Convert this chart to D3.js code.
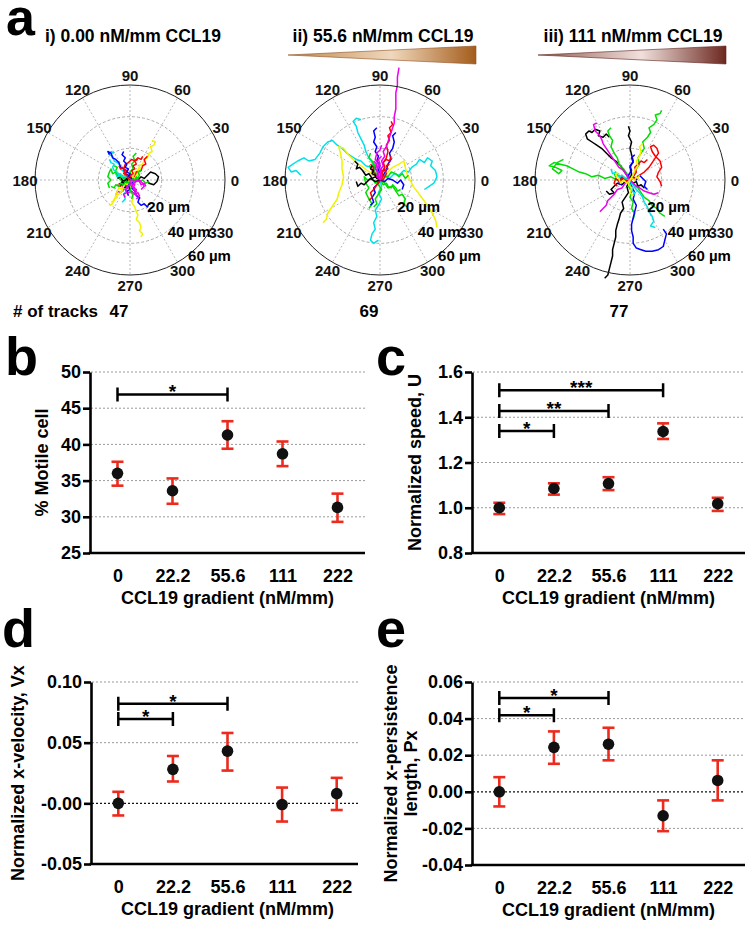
<!DOCTYPE html>
<html><head><meta charset="utf-8">
<script src="https://cdn.jsdelivr.net/npm/d3@7"></script>
<style>
body{margin:0;background:#fff;}
svg{font-family:"Liberation Sans",Arial,Helvetica,sans-serif;font-weight:bold;}
</style></head><body>
<svg id="fig" width="750" height="925"></svg>
<script>
// ---------- DATA ----------
const categories = ["0","22.2","55.6","111","222"];

const motileMean = [36.0, 33.6, 41.3, 38.7, 31.3];
const motileLo   = [34.3, 31.8, 39.4, 37.0, 29.3];
const motileHi   = [37.6, 35.3, 43.2, 40.4, 33.2];

const speedMean = [1.000, 1.085, 1.107, 1.337, 1.018];
const speedLo   = [0.972, 1.058, 1.078, 1.304, 0.986];
const speedHi   = [1.022, 1.108, 1.135, 1.373, 1.044];

const vxMean = [0.000, 0.028, 0.043, -0.001, 0.008];
const vxLo   = [-0.010, 0.018, 0.027, -0.015, -0.0055];
const vxHi   = [0.0095, 0.039, 0.058, 0.013, 0.021];

const pxMean = [0.000, 0.0243, 0.026, -0.0131, 0.0062];
const pxLo   = [-0.008, 0.0153, 0.0172, -0.0215, -0.0047];
const pxHi   = [0.008, 0.033, 0.035, -0.0047, 0.0172];

const ticksB = [25, 30, 35, 40, 45, 50];
const tickLabelsB = ["25", "30", "35", "40", "45", "50"];
const ticksC = [0.8, 1.0, 1.2, 1.4, 1.6];
const tickLabelsC = ["0.8", "1.0", "1.2", "1.4", "1.6"];
const ticksD = [-0.05, 0, 0.05, 0.10];
const tickLabelsD = ["-0.05", "-0.00", "0.05", "0.10"];
const ticksE = [-0.04, -0.02, 0, 0.02, 0.04, 0.06];
const tickLabelsE = ["-0.04", "-0.02", "0.00", "0.02", "0.04", "0.06"];

// significance brackets: [from, to, level, label]
const sigB = [["0", "55.6", 46.9, "*"]];
const sigC = [["0", "111", 1.519, "***"], ["0", "55.6", 1.428, "**"], ["0", "22.2", 1.339, "*"]];
const sigD = [["0", "55.6", 0.082, "*"], ["0", "22.2", 0.0696, "*"]];
const sigE = [["0", "55.6", 0.0512, "*"], ["0", "22.2", 0.0418, "*"]];

const polarAngles = [0, 30, 60, 90, 120, 150, 180, 210, 240, 270, 300, 330];
const polarRings = [20, 40, 60];
const polarTitles = ["i) 0.00 nM/mm CCL19", "ii) 55.6 nM/mm CCL19", "iii) 111 nM/mm CCL19"];
const trackCounts = [47, 69, 77];

// cell tracks (µm, x right, y up), flat x,y lists
const tracksI = [
 {c:"y", p:[0,0,2,2,3,5,5,6,6,9,8,10,9,13,11,14,12,17,14,18,13,21,15,22,16,24,14,25]},
 {c:"y", p:[0,0,1,-3,-1,-5,1,-8,2,-11,1,-14,3,-17,4,-20,5,-22,4,-25,6,-27,7,-30,6,-32,8,-34,7,-36]},
 {c:"b", p:[0,0,2,-2,1,-5,3,-7,4,-10,6,-11,5,-14,7,-16,9,-15,11,-17,12,-15]},
 {c:"k", p:[0,0,3,1,5,0,7,2,9,1,11,3,13,5,16,4,18,2,17,-1,15,-3,12,-2,11,0]},
 {c:"c", p:[0,0,-2,2,-3,5,-5,6,-6,9,-8,11,-10,12,-11,15,-13,16,-12,18,-10,17]},
 {c:"b", p:[0,0,-1,3,-3,4,-4,7,-6,8,-7,11,-9,13,-11,14,-12,17,-14,18,-13,16]},
 {c:"g", p:[0,0,-2,-1,-4,1,-6,0,-8,2,-9,5,-11,4,-12,7,-13,5,-14,2,-12,0,-14,-2,-13,-5]},
 {c:"g", p:[0,0,1,2,0,5,2,7,1,10,3,12,2,15,4,17]},
 {c:"r", p:[0,0,-1,2,-3,3,-2,6,-4,7,-3,10,-1,11,1,13,3,12,5,14,7,13,8,15]},
 {c:"m", p:[0,0,-2,-2,-1,-4,-3,-6,-1,-8,1,-7,3,-9,5,-8,6,-10,4,-12]},
 {c:"m", p:[0,0,-3,-1,-5,-3,-4,-6,-6,-8,-8,-7,-9,-10]},
 {c:"y", p:[0,0,-2,-3,-4,-4,-5,-7,-7,-9,-9,-10,-10,-13,-12,-14]},
 {c:"r", p:[0,0,3,2,4,5,7,6,8,9,10,10,9,13,11,15]},
 {c:"g", p:[0,0,2,-1,4,1,6,-1,8,0,10,-2,12,-1]},
 {c:"c", p:[0,0,-1,-3,-3,-4,-2,-7,-4,-9,-3,-12,-5,-14]},
 {c:"k", p:[0,0,-2,1,-3,-1,-5,0,-6,2,-8,1]},
 {c:"b", p:[0,0,1,-2,-1,-3,0,-6,-2,-7,-1,-10]},
 {c:"m", p:[0,0,2,1,4,-1,6,0,8,-2,9,-4,7,-6]},
 {c:"g", p:[0,0,-1,-2,1,-4,0,-7,2,-9,1,-12]},
 {c:"r", p:[0,0,-2,-1,-3,-3,-5,-2,-6,-4,-8,-3]},
 {c:"c", p:[0,0,-2,2,-4,1,-6,3,-8,2,-9,4]},
 {c:"y", p:[0,0,1,2,3,1,4,3,6,4,5,6,7,8]},
 {c:"m", p:[0,0,1,-2,3,-3,2,-5,4,-6,3,-8]},
 {c:"k", p:[0,0,-1,-2,-3,-2,-2,-4,-4,-5]},
 {c:"g", p:[0,0,-1,1,-2,0,-3,2,-4,1,-5,3,-6,2,-7,4,-8,3,-9,6,-8,8,-10,9]},
 {c:"c", p:[0,0,-2,1,-3,3,-5,2,-6,4,-7,3,-8,5,-10,6,-11,8,-10,10,-12,11,-13,13]},
 {c:"r", p:[0,0,1,1,0,3,2,4,1,6,3,7,2,9,4,10,3,12,5,13]},
 {c:"m", p:[0,0,1,-1,0,-2,2,-3,1,-4,3,-5,2,-6,4,-7,3,-9,5,-10]},
 {c:"m", p:[0,0,-1,-1,0,-3,-2,-4,-1,-5,-3,-6,-2,-8,-4,-9,-3,-11]},
 {c:"b", p:[0,0,1,1,-1,2,0,4,-2,5,-1,7,-3,8,-2,10,-4,12,-3,14,-5,16,-4,18]},
 {c:"g", p:[0,0,1,-1,2,1,3,0,4,2,5,1,6,3,5,5,7,6]},
 {c:"k", p:[0,0,-1,-1,-2,1,-3,0,-4,-2,-5,-1,-6,-3,-7,-2]},
 {c:"y", p:[0,0,-1,-1,-2,-3,-3,-2,-4,-4,-5,-6,-7,-5,-8,-7,-9,-9,-8,-11,-10,-12,-11,-15,-13,-16]},
 {c:"g", p:[0,0,-1,-2,-3,-1,-4,-3,-6,-2,-7,-4,-9,-3,-10,-5,-12,-4]},
 {c:"r", p:[0,0,-1,1,-2,3,-4,4,-3,6,-5,8,-6,7,-7,9]},
 {c:"m", p:[0,0,2,0,3,-2,4,0,6,-1,7,-3,9,-2,10,-4]}
];

const tracksII = [
 {c:"c", p:[0,0,-2,3,-4,5,-6,8,-9,9,-12,12,-15,13,-18,15,-21,17,-24,20,-27,22,-30,25,-33,24,-36,21,-38,17,-41,13,-45,12,-48,14,-52,12,-55,10,-58,8,-56,5,-53,6,-50,3]},
 {c:"c", p:[0,0,-1,4,-3,7,-5,11,-7,14,-9,18,-10,22,-12,26,-14,30,-15,34,-17,37,-15,39,-12,38]},
 {c:"c", p:[0,0,1,-4,-1,-8,1,-12,-1,-16,-3,-19,-2,-23,-4,-27,-3,-31,-5,-34,-6,-38,-4,-40,-1,-38]},
 {c:"c", p:[0,0,3,2,6,1,9,4,12,3,15,6,18,5,20,8,23,10,25,13,28,11,30,14,33,12,32,9,35,6,36,2,34,-2,31,-4,28,-6]},
 {c:"y", p:[0,0,-4,3,-8,6,-12,9,-16,12,-20,16,-23,20,-26,21,-25,17,-24,12,-24,7,-23,2,-24,-3,-26,-8,-27,-12,-29,-15,-31,-18,-33,-21,-34,-25,-36,-27]},
 {c:"y", p:[0,0,4,4,8,8,12,10,15,12,16,8,17,4,19,0,21,-4,24,-8,27,-12,30,-16,33,-21,35,-25,36,-30]},
 {c:"g", p:[0,0,3,-2,5,-5,8,-4,10,-7,12,-10,14,-9,16,-12,15,-15,17,-17]},
 {c:"g", p:[0,0,2,3,5,2,7,5,10,4,12,2,14,4,16,1,18,3]},
 {c:"g", p:[0,0,-3,-2,-5,1,-8,0,-10,2,-9,-2,-7,-5,-9,-8,-7,-12,-5,-15,-7,-18]},
 {c:"g", p:[0,0,-1,-3,1,-6,-1,-9,-3,-12,-2,-15,-4,-17]},
 {c:"g", p:[0,0,-2,3,-4,6,-3,9,-5,12,-7,14,-6,17]},
 {c:"g", p:[0,0,1,-1,2,-3,4,-2,5,-4,7,-5,8,-3,10,-5,11,-7,13,-6]},
 {c:"g", p:[0,0,-1,1,0,3,-2,4,-1,6,-3,7,-2,9,-4,10,-5,8,-7,9]},
 {c:"b", p:[0,0,1,3,-1,6,0,9,-2,12,-1,15,-3,18,-2,21,-4,24,-3,27,-4,31,-2,33]},
 {c:"b", p:[0,0,2,3,4,6,5,10,7,13,6,17,8,20,9,24,8,28,10,30]},
 {c:"b", p:[0,0,-2,-3,-4,-5,-3,-8,-5,-11,-4,-14,-6,-16]},
 {c:"b", p:[0,0,3,-1,5,1,8,0,11,-2,13,0,15,-3,14,-6]},
 {c:"r", p:[0,0,1,4,3,7,2,11,4,14,5,18,4,22,6,25,5,28,7,30,6,33,8,35,7,37]},
 {c:"r", p:[0,0,2,2,1,5,3,8,2,11,4,13,6,12,7,15]},
 {c:"r", p:[0,0,-2,-3,-4,-6,-6,-8,-5,-11,-7,-13]},
 {c:"r", p:[0,0,-2,1,-3,4,-5,5,-4,8,-6,10]},
 {c:"r", p:[0,0,1,1,2,0,3,2,4,4,3,6,5,7,4,9,6,10]},
 {c:"k", p:[0,0,-3,2,-5,1,-7,4,-9,3,-11,6,-13,8,-15,7,-14,10,-16,12]},
 {c:"k", p:[0,0,-3,-1,-6,1,-8,-1,-10,-3,-12,-2,-14,-4,-15,-1]},
 {c:"k", p:[0,0,-1,2,-2,1,-3,3,-5,4,-4,6,-6,7,-5,9]},
 {c:"m", p:[0,0,-2,2,-1,5,-3,7,-2,10,-4,12]},
 {c:"m", p:[0,0,-1,3,-2,6,-1,10,-3,13,-2,17,0,19,1,22]},
 {c:"m", p:[0,0,1,2,0,4,1,6,-1,8,0,10,-1,13,1,15]},
 {c:"m", p:[0,0,1,3,0,6,2,9,1,12,3,15,2,18,4,21,5,24,6,27,7,30,8,33,9,36,9,40,10,45,10,50,10,55,11,60,11,65,12,71]}
];

const tracksIII = [
 {c:"k", p:[0,0,-2,-4,-1,-8,-3,-11,-5,-14,-4,-18,-6,-21,-7,-25,-8,-28,-9,-32,-9,-36,-10,-40,-11,-44,-11,-48,-12,-52,-13,-56,-14,-60,-16,-62]},
 {c:"k", p:[0,0,-2,3,-4,6,-6,9,-9,12,-12,14,-15,17,-18,20,-21,22,-24,24,-27,26,-28,29,-26,31,-24,30,-22,32,-19,31,-20,28,-17,27,-15,29,-13,27]},
 {c:"k", p:[0,0,1,4,0,8,2,12,1,16,0,20,1,24,-1,28,0,31,-1,34]},
 {c:"k", p:[0,0,-3,-1,-5,-3,-8,-2,-10,-4,-12,-6,-10,-8,-13,-9,-15,-7]},
 {c:"k", p:[0,0,2,-2,4,-1,5,-4,7,-3,9,-5]},
 {c:"g", p:[0,0,-4,1,-8,0,-12,2,-16,1,-20,3,-24,2,-28,4,-32,5,-36,7,-40,9,-44,10,-48,11,-51,9,-47,8,-43,6,-45,4,-49,7,-46,11,-42,13]},
 {c:"g", p:[0,0,2,3,4,7,6,10,5,14,7,17,9,20,8,24,11,27,13,30,12,33,15,35,17,38,16,41,19,42,20,44]},
 {c:"g", p:[0,0,-2,4,-4,7,-7,10,-8,14,-10,17,-12,21,-11,25,-13,28,-14,31,-12,33]},
 {c:"g", p:[0,0,2,-3,5,-5,7,-8,9,-11,12,-13,14,-16,17,-18,19,-21,22,-23]},
 {c:"g", p:[0,0,-1,-4,1,-7,0,-11,2,-14,1,-18,3,-21,2,-25]},
 {c:"g", p:[0,0,-1,1,-3,0,-4,2,-6,1,-7,3,-9,2,-10,4]},
 {c:"b", p:[0,0,1,-4,3,-8,2,-12,4,-16,3,-20,2,-24,1,-28,1,-32,2,-36,2,-40,4,-43,7,-44,10,-45,14,-45,18,-44,21,-42,22,-38,23,-34,21,-31]},
 {c:"b", p:[0,0,2,2,4,0,6,3,8,1,10,-1,9,-4,11,-6]},
 {c:"b", p:[0,0,-1,3,1,6,0,9,2,11,1,14,3,16]},
 {c:"b", p:[0,0,-1,-1,-2,1,-4,0,-5,2,-6,0,-7,-2,-5,-3]},
 {c:"r", p:[0,0,3,1,6,3,9,5,12,8,14,11,16,14,18,17,17,20,15,22,13,21,14,18,16,15,19,12,20,8,18,5,17,2,19,-1,20,-4]},
 {c:"r", p:[0,0,-3,-1,-5,1,-7,-1,-9,1,-10,-2,-8,-4]},
 {c:"r", p:[0,0,2,2,4,5,3,8,5,10,7,12,9,11,11,13]},
 {c:"r", p:[0,0,-1,1,-2,-1,-3,1,-4,0,-5,2,-6,-1]},
 {c:"c", p:[0,0,2,-3,4,-6,6,-8,8,-11,9,-14,11,-17,12,-20,14,-23,15,-26,13,-29,16,-30]},
 {c:"c", p:[0,0,-3,1,-5,3,-7,2,-9,5,-11,4,-12,7]},
 {c:"c", p:[0,0,1,-2,0,-4,2,-5,1,-7,3,-8,2,-10]},
 {c:"m", p:[0,0,-2,3,-4,6,-7,8,-9,11,-11,14,-13,17,-15,20,-17,23,-18,26,-20,29,-22,31,-23,35,-21,36]},
 {c:"m", p:[0,0,-3,-2,-5,-5,-8,-6,-10,-9,-12,-11,-14,-13,-15,-16,-17,-18,-19,-20]},
 {c:"m", p:[0,0,3,-3,6,-5,9,-7,12,-8,15,-9,18,-8]},
 {c:"y", p:[0,0,2,3,3,6,5,9,4,12,6,15,7,18,6,21,8,23]},
 {c:"y", p:[0,0,-2,-2,-4,0,-6,-2,-7,1,-9,3,-8,5]},
 {c:"y", p:[0,0,-1,-3,1,-5,0,-8,2,-10]},
 {c:"y", p:[0,0,1,1,3,0,4,2,5,1,6,3]}
];

// ---------- DRAW ----------
const FONT = '"Liberation Sans",Arial,Helvetica,sans-serif';
const svg = d3.select("#fig");
svg.append("rect").attr("width",750).attr("height",925).attr("fill","#fff");
const trackColor = {b:"#0000ff", g:"#00dd00", r:"#ff0000", c:"#00e0e8", m:"#ee00ee", y:"#f2f200", k:"#000000"};

const defs = svg.append("defs");
function addGrad(id, stops){
  const gr = defs.append("linearGradient").attr("id",id).attr("x1","0%").attr("x2","100%").attr("y1","0%").attr("y2","0%");
  stops.forEach(s=>gr.append("stop").attr("offset",s[0]).attr("stop-color",s[1]));
}
addGrad("wedgeBrown", [["0%","#c08850"],["55%","#f0d8bc"],["100%","#a45c1c"]]);
addGrad("wedgeMaroon", [["0%","#935a52"],["55%","#f0e0dc"],["100%","#6c2820"]]);

const R = 95, RMAX = 60;
function drawPolar(cx, cy, tracks, title, count, wedge){
  const g = svg.append("g").attr("transform",`translate(${cx},${cy})`);
  const xs = d3.scaleLinear().domain([-RMAX,RMAX]).range([-R,R]);
  const ys = d3.scaleLinear().domain([-RMAX,RMAX]).range([R,-R]);
  const rs = d3.scaleLinear().domain([0,RMAX]).range([0,R]);
  const rad = a => a*Math.PI/180;
  g.selectAll(".spoke").data(polarAngles).join("line")
    .attr("x1",0).attr("y1",0)
    .attr("x2",d=>rs(RMAX)*Math.cos(rad(d))).attr("y2",d=>-rs(RMAX)*Math.sin(rad(d)))
    .attr("stroke","#b0b0b0").attr("stroke-width",0.9).attr("stroke-dasharray","2,2");
  g.selectAll(".ring").data(polarRings.slice(0,-1)).join("circle")
    .attr("r",d=>rs(d)).attr("fill","none")
    .attr("stroke","#a0a0a0").attr("stroke-width",0.9).attr("stroke-dasharray","3,2");
  const line = d3.line().x(d=>xs(d[0])).y(d=>ys(d[1]));
  tracks.forEach(t=>{
    const pts = d3.range(0,t.p.length,2).map(i=>[t.p[i],t.p[i+1]]);
    g.append("path").attr("d",line(pts)).attr("fill","none")
      .attr("stroke",trackColor[t.c]).attr("stroke-width",1.5).attr("stroke-linejoin","round");
  });
  g.append("circle").attr("r",rs(RMAX)).attr("fill","none").attr("stroke","#222").attr("stroke-width",1);
  g.selectAll(".alab").data(polarAngles).join("text")
    .attr("x",d=>(rs(RMAX)+10)*Math.cos(rad(d))).attr("y",d=>-(rs(RMAX)+10)*Math.sin(rad(d)))
    .attr("text-anchor","middle").attr("dominant-baseline","central")
    .attr("font-size",15).attr("font-weight","bold").attr("fill","#111").text(d=>d);
  g.selectAll(".rlab").data(polarRings).join("text")
    .attr("x",d=>rs(d)*Math.cos(rad(-50))-3).attr("y",d=>-rs(d)*Math.sin(rad(-50))+8)
    .attr("font-size",15).attr("font-weight","bold").attr("fill","#000").text(d=>d+" µm");
  svg.append("text").attr("x",cx+3).attr("y",42).attr("text-anchor","middle")
    .attr("font-size",17.5).attr("font-weight","bold").text(title);
  if (wedge){
    svg.append("polygon")
      .attr("points",`${cx-92},55 ${cx+96},46 ${cx+96},64`)
      .attr("fill",`url(#${wedge.id})`).attr("stroke",wedge.stroke).attr("stroke-width",0.6);
  }
  svg.append("text").attr("x",cx-11).attr("y",317).attr("text-anchor","middle")
    .attr("font-size",17).attr("font-weight","bold").text(count);
}

drawPolar(130,180,tracksI,polarTitles[0],trackCounts[0],null);
drawPolar(380,180,tracksII,polarTitles[1],trackCounts[1],{id:"wedgeBrown",stroke:"#8e5020"});
drawPolar(630,180,tracksIII,polarTitles[2],trackCounts[2],{id:"wedgeMaroon",stroke:"#5c221c"});
svg.append("text").attr("x",13).attr("y",317).attr("font-size",17).attr("font-weight","bold").text("# of tracks");
svg.append("text").attr("x",6).attr("y",35).attr("font-size",52).attr("font-weight","bold").text("a");

function drawPanel(o){
  const g = svg.append("g");
  const x = d3.scalePoint().domain(categories).range([o.x0, o.x1]).padding(0.5);
  const y = d3.scaleLinear().domain(o.domain).range([o.yBot, o.yTop]);
  g.selectAll(".grid").data(o.grid).join("line")
    .attr("x1",o.x0+1).attr("x2",o.xEnd).attr("y1",d=>y(d)).attr("y2",d=>y(d))
    .attr("stroke",d=>d===0?"#111":"#9a9a9a").attr("stroke-width",d=>d===0?1.3:1)
    .attr("stroke-dasharray","2,2");
  const ya = d3.axisLeft(y).tickValues(o.ticks)
    .tickFormat(d=>o.tickLabels[o.ticks.indexOf(d)]).tickSize(7).tickSizeOuter(0).tickPadding(2);
  const yg = g.append("g").attr("transform",`translate(${o.x0},0)`).call(ya);
  yg.select(".domain").attr("stroke","#000").attr("stroke-width",2.6);
  yg.selectAll(".tick line").attr("stroke","#000").attr("stroke-width",2.6);
  yg.selectAll(".tick text").attr("font-size",18).attr("font-weight","bold").attr("font-family",FONT).attr("fill","#000");
  const xa = d3.axisBottom(x).tickSize(0).tickSizeOuter(0);
  const xg = g.append("g").attr("transform",`translate(0,${o.yBot})`).call(xa);
  xg.select(".domain").remove();
  xg.selectAll(".tick text").attr("y",29).attr("dy",0).attr("font-size",18).attr("font-weight","bold")
    .attr("font-family",FONT).attr("fill","#000");
  g.append("line").attr("x1",o.x0-1.3).attr("x2",o.xEnd).attr("y1",o.yBot).attr("y2",o.yBot)
    .attr("stroke","#000").attr("stroke-width",2.6);
  g.append("text").attr("x",(x(categories[0])+x(categories[categories.length-1]))/2).attr("y",o.yBot+51)
    .attr("text-anchor","middle").attr("font-size",18).attr("font-weight","bold").text("CCL19 gradient (nM/mm)");
  const yc = (o.yTop+o.yBot)/2;
  o.ylabel.forEach((s,i)=>{
    g.append("text").attr("transform",`translate(${o.ylabelX[i]},${yc}) rotate(-90)`)
      .attr("text-anchor","middle").attr("font-size",18).attr("font-weight","bold").text(s);
  });
  o.sig.forEach(s=>{
    const x1 = x(s[0]), x2 = x(s[1]), yy = y(s[2]);
    g.append("path").attr("d",`M${x1},${yy-7}V${yy+7}M${x1},${yy}H${x2}M${x2},${yy-7}V${yy+7}`)
      .attr("stroke","#000").attr("stroke-width",2.5).attr("fill","none");
    g.append("text").attr("x",(x1+x2)/2).attr("y",yy+4).attr("text-anchor","middle")
      .attr("font-size",19).attr("font-weight","bold").text(s[3]);
  });
  const eb = g.selectAll(".eb").data(categories).join("g");
  eb.append("line").attr("x1",d=>x(d)).attr("x2",d=>x(d))
    .attr("y1",(d,i)=>y(o.lo[i])).attr("y2",(d,i)=>y(o.hi[i]))
    .attr("stroke","#ec2a1e").attr("stroke-width",2.6);
  eb.append("line").attr("x1",d=>x(d)-6).attr("x2",d=>x(d)+6)
    .attr("y1",(d,i)=>y(o.lo[i])).attr("y2",(d,i)=>y(o.lo[i]))
    .attr("stroke","#ec2a1e").attr("stroke-width",2.6);
  eb.append("line").attr("x1",d=>x(d)-6).attr("x2",d=>x(d)+6)
    .attr("y1",(d,i)=>y(o.hi[i])).attr("y2",(d,i)=>y(o.hi[i]))
    .attr("stroke","#ec2a1e").attr("stroke-width",2.6);
  eb.append("circle").attr("cx",d=>x(d)).attr("cy",(d,i)=>y(o.mean[i])).attr("r",5.8).attr("fill","#111");
  svg.append("text").attr("x",o.letterX).attr("y",o.letterY).attr("font-size",54).attr("font-weight","bold").text(o.letter);
}

drawPanel({x0:90,x1:365,xEnd:365,yTop:372,yBot:553,domain:[25,50],ticks:ticksB,tickLabels:tickLabelsB,
  grid:[30,35,40,45,50],mean:motileMean,lo:motileLo,hi:motileHi,sig:sigB,
  ylabel:["% Motile cell"],ylabelX:[48],letter:"b",letterX:5,letterY:375});
drawPanel({x0:472,x1:745,xEnd:745,yTop:372,yBot:553,domain:[0.8,1.6],ticks:ticksC,tickLabels:tickLabelsC,
  grid:[1.0,1.2,1.4,1.6],mean:speedMean,lo:speedLo,hi:speedHi,sig:sigC,
  ylabel:["Normalized speed, U"],ylabelX:[421],letter:"c",letterX:376,letterY:375});
drawPanel({x0:91,x1:364,xEnd:358,yTop:682,yBot:864,domain:[-0.05,0.10],ticks:ticksD,tickLabels:tickLabelsD,
  grid:[0,0.05,0.10],mean:vxMean,lo:vxLo,hi:vxHi,sig:sigD,
  ylabel:["Normalized x-velocity, Vx"],ylabelX:[24],letter:"d",letterX:2,letterY:647});
drawPanel({x0:472,x1:745,xEnd:745,yTop:682,yBot:865,domain:[-0.04,0.06],ticks:ticksE,tickLabels:tickLabelsE,
  grid:[-0.02,0,0.02,0.04,0.06],mean:pxMean,lo:pxLo,hi:pxHi,sig:sigE,
  ylabel:["Normalized x-persistence","length, Px"],ylabelX:[397,417],letter:"e",letterX:376,letterY:647});
</script>
</body></html>
